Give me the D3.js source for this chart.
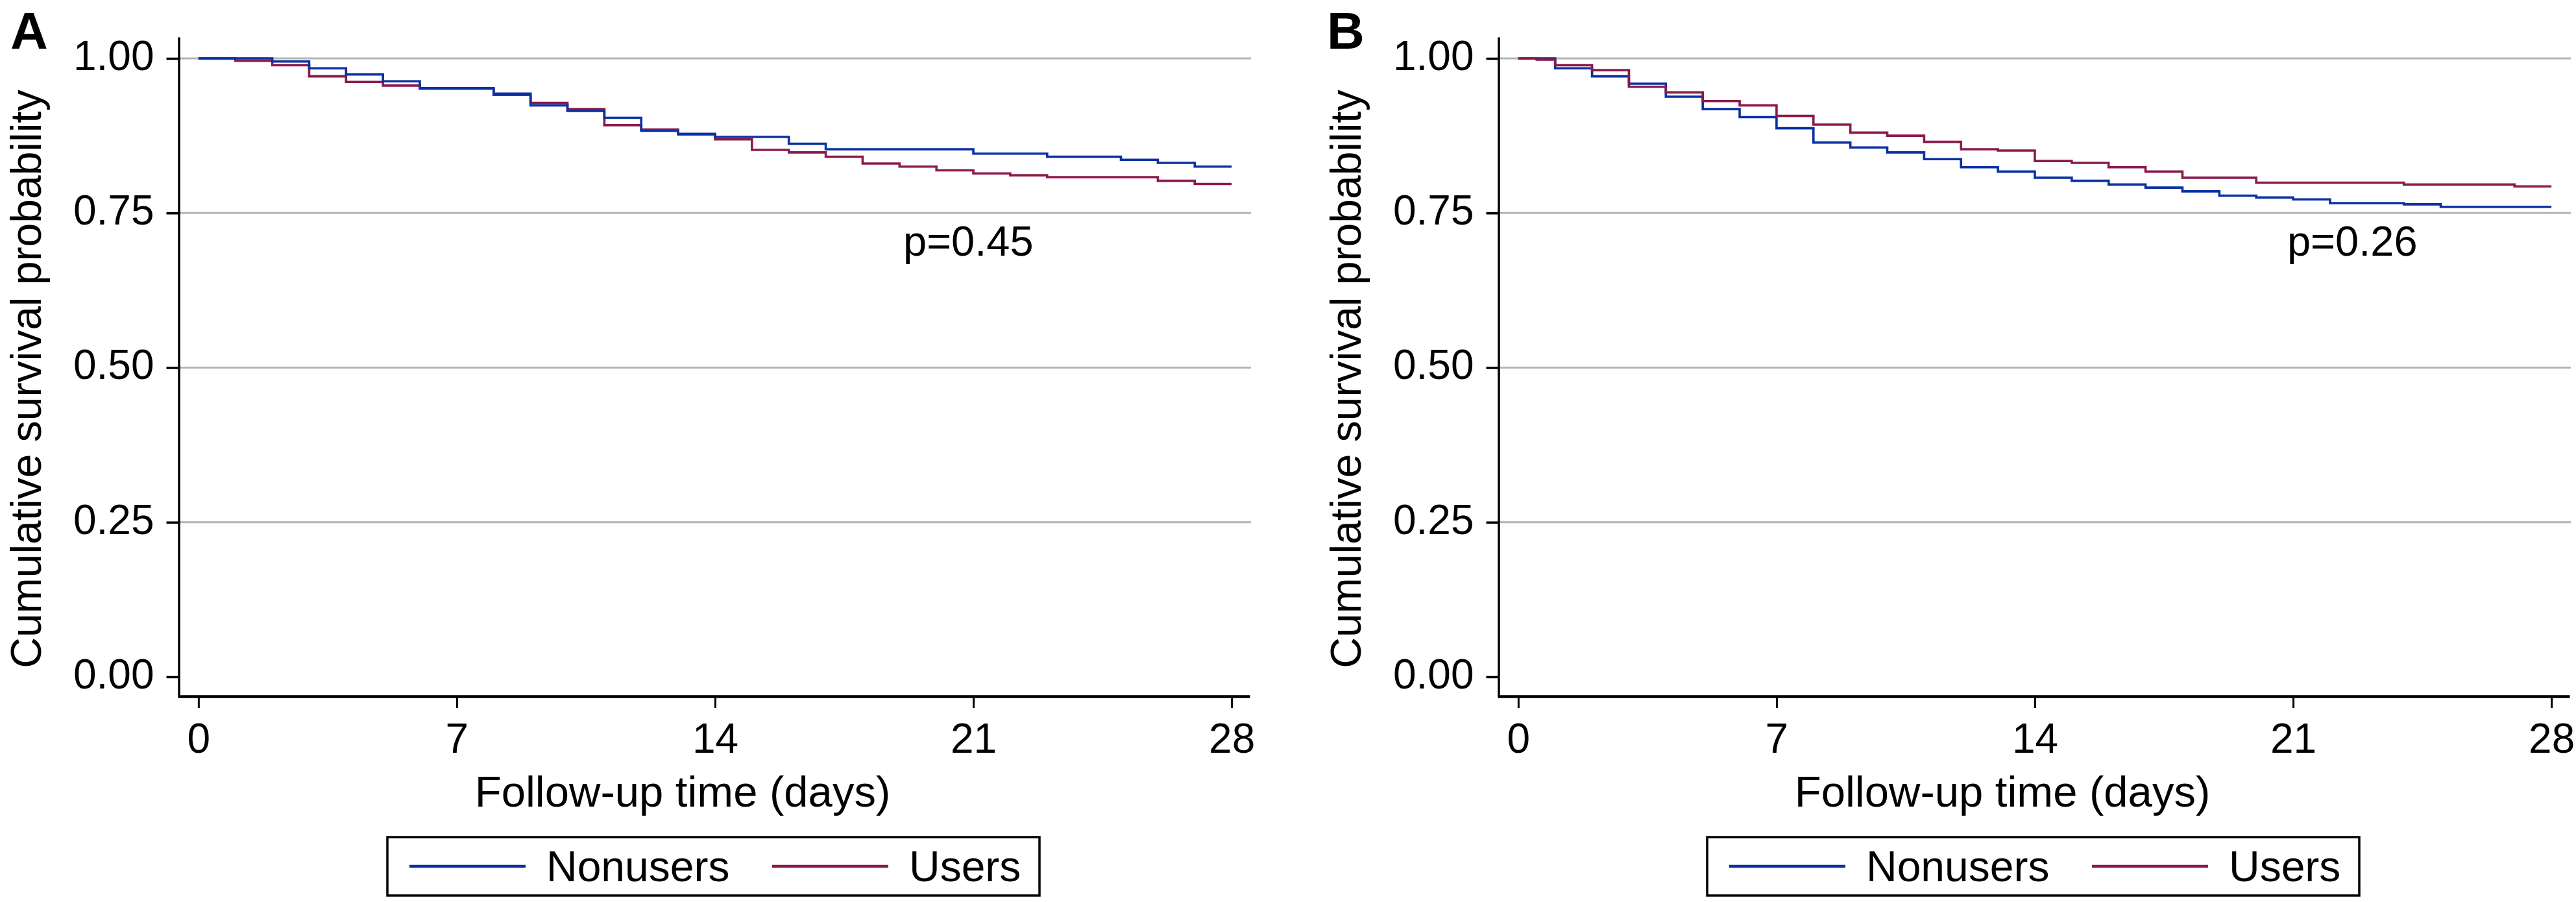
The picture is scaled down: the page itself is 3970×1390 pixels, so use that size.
<!DOCTYPE html>
<head>
  <meta charset="utf-8">
  <title>Cumulative survival probability</title>
  <script src="https://d3js.org/d3.v7.min.js"></script>
  <style>
    body { margin: 0; background: #fff; }
    svg { font-family: "Liberation Sans", Arial, Helvetica, sans-serif; }
    .tick text { font-size: 64px; fill: #000; }
    .grid-line { stroke: #b4b4b4; stroke-width: 3px; }
    .km { fill: none; stroke-width: 3.6px; }
  </style>
</head>
<body>
<script>
// follow-up days and survival values
var timesA_non = [0, 2, 3, 4, 5, 6, 8, 9, 10, 11, 12, 13, 14, 16, 17, 21, 23, 25, 26, 27, 28];
var survA_non  = [1.0, 0.995, 0.984, 0.974, 0.963, 0.952, 0.943, 0.924, 0.915, 0.904, 0.883, 0.878, 0.873, 0.862, 0.853, 0.846, 0.841, 0.836, 0.831, 0.825, 0.825];

var timesA_users = [0, 1, 2, 3, 4, 5, 6, 8, 9, 10, 11, 12, 13, 14, 15, 16, 17, 18, 19, 20, 21, 22, 23, 26, 27, 28];
var survA_users  = [1.0, 0.996, 0.989, 0.971, 0.962, 0.956, 0.951, 0.941, 0.928, 0.918, 0.892, 0.885, 0.877, 0.869, 0.852, 0.848, 0.841, 0.830, 0.825, 0.819, 0.814, 0.811, 0.808, 0.802, 0.797, 0.797];

var timesB_non = [0, 1, 2, 3, 4, 5, 6, 7, 8, 9, 10, 11, 12, 13, 14, 15, 16, 17, 18, 19, 20, 21, 22, 24, 25, 28];
var survB_non  = [1.0, 0.984, 0.971, 0.959, 0.938, 0.918, 0.905, 0.887, 0.864, 0.856, 0.848, 0.837, 0.824, 0.817, 0.807, 0.802, 0.796, 0.791, 0.785, 0.778, 0.775, 0.772, 0.766, 0.764, 0.760, 0.760];

var timesB_users = [0, 0.5, 1, 2, 3, 4, 5, 6, 7, 8, 9, 10, 11, 12, 13, 14, 15, 16, 17, 18, 20, 24, 27, 28];
var survB_users  = [1.0, 0.998, 0.989, 0.981, 0.954, 0.945, 0.931, 0.924, 0.907, 0.893, 0.880, 0.875, 0.865, 0.853, 0.851, 0.834, 0.831, 0.824, 0.817, 0.807, 0.799, 0.796, 0.793, 0.793];

var xTicks = [0, 7, 14, 21, 28];
var yTicks = [0, 0.25, 0.5, 0.75, 1];
var gridTicks = [0.25, 0.5, 0.75, 1];
var groups = ["Nonusers", "Users"];
var colors = {"Nonusers": "#0a31a2", "Users": "#8b1a4c"};
var pLabels = ["p=0.45", "p=0.26"];
var pAt = [[19.1, 0.6805], [20.84, 0.6805]];
var panelLetters = ["A", "B"];

var W = 3970, H = 1390;

var svg = d3.select("body").append("svg")
    .attr("width", W)
    .attr("height", H);

var x = d3.scaleLinear().domain([-0.56, 28.49]).range([274, 1926]);
var y = d3.scaleLinear().domain([-0.0315, 1.0346]).range([1073, 57]);

var line = d3.line()
    .x(function(d) { return x(d[0]); })
    .y(function(d) { return y(d[1]); })
    .curve(d3.curveStepAfter);

function pairs(t, s) {
  return t.map(function(d, i) { return [d, s[i]]; });
}

var panels = [
  {offset: 0, letterX: 16, series: [
    {name: "Users", pts: pairs(timesA_users, survA_users)},
    {name: "Nonusers", pts: pairs(timesA_non, survA_non)}
  ]},
  {offset: 2034, letterX: 11, series: [
    {name: "Nonusers", pts: pairs(timesB_non, survB_non)},
    {name: "Users", pts: pairs(timesB_users, survB_users)}
  ]}
];

panels.forEach(function(p, i) {
  var g = svg.append("g").attr("transform", "translate(" + p.offset + ",0)");

  // panel letter
  g.append("text")
    .attr("x", p.letterX)
    .attr("y", 75)
    .style("font-size", "80px")
    .style("font-weight", "bold")
    .text(panelLetters[i]);

  // grid lines
  g.selectAll(".grid-line")
    .data(gridTicks)
    .enter().append("line")
    .attr("class", "grid-line")
    .attr("x1", x.range()[0])
    .attr("x2", x.range()[1] + 2)
    .attr("y1", function(d) { return y(d); })
    .attr("y2", function(d) { return y(d); });

  // y axis
  var yAxis = d3.axisLeft(y)
    .tickValues(yTicks)
    .tickFormat(d3.format(".2f"))
    .tickSize(19)
    .tickSizeOuter(0)
    .tickPadding(19);

  var ya = g.append("g")
    .attr("transform", "translate(" + (x.range()[0] + 1.5) + ",0)")
    .call(yAxis);
  ya.select(".domain").attr("stroke-width", 3.5);
  ya.selectAll(".tick line").attr("stroke-width", 3.5);
  ya.selectAll(".tick text").attr("dy", "0.27em");

  // x axis
  var xAxis = d3.axisBottom(x)
    .tickValues(xTicks)
    .tickSize(18)
    .tickSizeOuter(0)
    .tickPadding(24);

  var xa = g.append("g")
    .attr("transform", "translate(0," + y.range()[0] + ")")
    .call(xAxis);
  xa.select(".domain").attr("stroke-width", 4.5);
  xa.selectAll(".tick line").attr("stroke-width", 3);

  // axis titles
  g.append("text")
    .attr("transform", "translate(63,584) rotate(-90)")
    .attr("text-anchor", "middle")
    .style("font-size", "66px")
    .text("Cumulative survival probability");

  g.append("text")
    .attr("x", 1052)
    .attr("y", 1243)
    .attr("text-anchor", "middle")
    .style("font-size", "67px")
    .text("Follow-up time (days)");

  // survival curves
  g.selectAll(".km")
    .data(p.series)
    .enter().append("path")
    .attr("class", "km")
    .attr("stroke", function(d) { return colors[d.name]; })
    .attr("d", function(d) { return line(d.pts); });

  // p value
  g.append("text")
    .attr("x", x(pAt[i][0]))
    .attr("y", y(pAt[i][1]))
    .style("font-size", "65px")
    .text(pLabels[i]);

  // legend
  var lg = g.append("g").attr("transform", "translate(597,1290)");
  lg.append("rect")
    .attr("width", 1005)
    .attr("height", 90)
    .attr("fill", "#fff")
    .attr("stroke", "#000")
    .attr("stroke-width", 3.5);

  var items = lg.selectAll(".item")
    .data(groups)
    .enter().append("g")
    .attr("class", "item")
    .attr("transform", function(d, j) { return "translate(" + (34 + j * 559) + ",0)"; });

  items.append("line")
    .attr("x1", 0)
    .attr("x2", 179)
    .attr("y1", 45)
    .attr("y2", 45)
    .attr("stroke", function(d) { return colors[d]; })
    .attr("stroke-width", 4.5);

  items.append("text")
    .attr("x", 211)
    .attr("y", 68)
    .style("font-size", "66px")
    .text(function(d) { return d; });
});
</script>
</body>
